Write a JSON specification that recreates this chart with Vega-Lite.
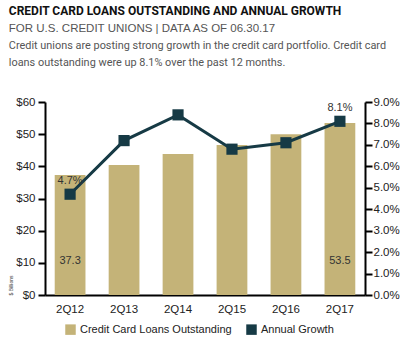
{
  "$schema": "https://vega.github.io/schema/vega-lite/v6.json",
  "padding": {"left": 8, "top": 5, "right": 5, "bottom": 5},
  "background": "white",
  "title": {
    "text": "CREDIT CARD LOANS OUTSTANDING AND ANNUAL GROWTH",
    "subtitle": "FOR U.S. CREDIT UNIONS | DATA AS OF 06.30.17",
    "anchor": "start",
    "frame": "bounds",
    "offset": 4,
    "font": "Roboto, sans-serif",
    "fontSize": 12,
    "fontWeight": "bold",
    "color": "#111111",
    "subtitleFont": "Liberation Sans, sans-serif",
    "subtitleFontSize": 11.5,
    "subtitleColor": "#555555",
    "subtitlePadding": 5
  },
  "data": {
    "values": [
      {"quarter": "2Q12", "loans": 37.3, "growth": 0.047},
      {"quarter": "2Q13", "loans": 40.4, "growth": 0.072},
      {"quarter": "2Q14", "loans": 43.8, "growth": 0.084},
      {"quarter": "2Q15", "loans": 46.6, "growth": 0.068},
      {"quarter": "2Q16", "loans": 50.0, "growth": 0.071},
      {"quarter": "2Q17", "loans": 53.5, "growth": 0.081}
    ]
  },
  "vconcat": [
    {
      "width": 320,
      "height": 193,
      "title": {
        "text": ["Credit unions are posting strong growth in the credit card portfolio. Credit card", "loans outstanding were up 8.1% over the past 12 months."],
        "anchor": "start",
        "frame": "bounds",
        "offset": 28,
        "font": "Roboto, sans-serif",
        "fontSize": 10.9,
        "fontWeight": "normal",
        "color": "#555555",
        "lineHeight": 17.5
      },
      "encoding": {
        "x": {
          "field": "quarter", "type": "ordinal",
          "scale": {"paddingInner": 0.43, "paddingOuter": 0.18},
          "axis": {"title": null, "labelAngle": 0, "domainColor": "#000000", "domainWidth": 2, "ticks": false, "labelFontSize": 11.5, "labelColor": "#222222", "labelPadding": 8, "labelFont": "Liberation Sans, sans-serif"}
        }
      },
      "layer": [
        {
          "encoding": {
            "y": {
              "field": "loans", "type": "quantitative",
              "scale": {"domain": [0, 60]},
              "axis": {"title": "$ Billions", "titleFontSize": 5, "titleAnchor": "start", "titlePadding": 2, "titleFontWeight": "normal", "titleColor": "#333333", "format": "$.0f", "values": [0, 10, 20, 30, 40, 50, 60], "grid": false, "domainColor": "#000000", "domainWidth": 2, "tickColor": "#000000", "tickWidth": 2, "tickSize": 7, "labelFontSize": 11.5, "labelColor": "#222222", "labelPadding": 3, "labelOverlap": false, "labelFont": "Liberation Sans, sans-serif"}
            }
          },
          "layer": [
            {
              "mark": {"type": "bar", "color": "#C4B378"},
              "encoding": {
                "color": {"datum": "Credit Card Loans Outstanding", "type": "nominal"}
              }
            },
            {
              "transform": [{"filter": "datum.quarter == '2Q12' || datum.quarter == '2Q17'"}],
              "mark": {"type": "text", "dy": -34, "fontSize": 11, "color": "#333333", "font": "Liberation Sans, sans-serif"},
              "encoding": {
                "y": {"datum": 0, "type": "quantitative", "axis": {"title": "$ Billions", "titleFontSize": 5, "titleAnchor": "start", "titlePadding": 2, "titleFontWeight": "normal", "titleColor": "#333333", "format": "$.0f", "values": [0, 10, 20, 30, 40, 50, 60], "grid": false, "domainColor": "#000000", "domainWidth": 2, "tickColor": "#000000", "tickWidth": 2, "tickSize": 7, "labelFontSize": 11.5, "labelColor": "#222222", "labelPadding": 3, "labelOverlap": false, "labelFont": "Liberation Sans, sans-serif"}},
                "text": {"field": "loans", "type": "quantitative", "format": ".1f"}
              }
            }
          ]
        },
        {
          "encoding": {
            "y": {
              "field": "growth", "type": "quantitative",
              "scale": {"domain": [0, 0.09]},
              "axis": {"orient": "right", "title": null, "format": ".1%", "values": [0, 0.01, 0.02, 0.03, 0.04, 0.05, 0.06, 0.07, 0.08, 0.09], "grid": false, "domainColor": "#000000", "domainWidth": 2, "tickColor": "#000000", "tickWidth": 2, "tickSize": 7, "labelFontSize": 11.5, "labelColor": "#222222", "labelPadding": 1, "labelOverlap": false, "labelFont": "Liberation Sans, sans-serif"}
            }
          },
          "layer": [
            {
              "mark": {"type": "line", "color": "#163A45", "strokeWidth": 3}
            },
            {
              "mark": {"type": "point", "shape": "square", "filled": true, "opacity": 1, "size": 125},
              "encoding": {
                "color": {"datum": "Annual Growth", "type": "nominal"}
              }
            },
            {
              "transform": [{"filter": "datum.quarter == '2Q12' || datum.quarter == '2Q17'"}],
              "mark": {"type": "text", "dy": -13, "fontSize": 11, "color": "#333333", "font": "Liberation Sans, sans-serif"},
              "encoding": {
                "text": {"field": "growth", "type": "quantitative", "format": ".1%"}
              }
            }
          ]
        }
      ],
      "resolve": {"scale": {"y": "independent"}}
    }
  ],
  "config": {
    "view": {"stroke": null},
    "range": {"category": ["#C4B378", "#163A45"]},
    "legend": {
      "orient": "none", "legendX": 20, "legendY": 222, "direction": "horizontal", "title": null,
      "symbolType": "square", "symbolSize": 110, "symbolOpacity": 1, "symbolStrokeWidth": 0,
      "labelFontSize": 11, "labelColor": "#222222", "labelFont": "Liberation Sans, sans-serif", "columnPadding": 14, "labelLimit": 300
    }
  }
}
